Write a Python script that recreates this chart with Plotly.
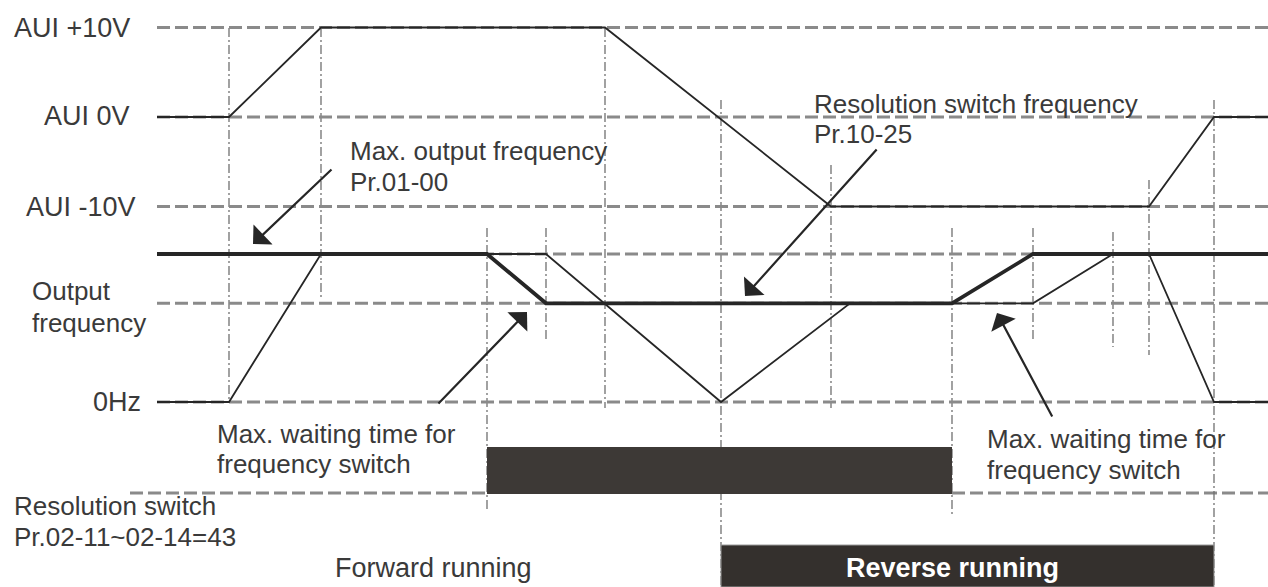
import plotly.graph_objects as go

W, H = 1268, 587

# ---- signals (time axis in drawing units) ----
# analog input AUI, volts
aui_t = [157, 229, 321, 605, 831, 1149, 1214, 1268]
aui_v = [0, 0, 10, 10, -10, -10, 0, 0]

# frequency command after resolution switching (thick), Hz
cmd_t = [157, 487, 546, 952, 1033, 1268]
cmd_f = [60, 60, 40, 40, 60, 60]

# actual output frequency (thin), Hz
out_t = [157, 229, 321, 546, 721, 850, 1033, 1113, 1149, 1214, 1268]
out_f = [0, 0, 60, 60, 0, 40, 40, 60, 60, 0, 0]

# resolution switch (Pr.02-11~02-14=43) on between these times
res_on = [487, 952]
res_span = [130, 1268]
# reverse running between these times
rev_on = [721, 1214]

# reference levels
aui_levels = [10, 0, -10]
aui_level_names = ["AUI +10V", "AUI 0V", "AUI -10V"]
freq_levels = [60, 40, 0]          # Fmax, switch frequency, 0 Hz

# event markers (dash-dot): time, top px, bottom px
mark_t = [229, 321, 487, 546, 605, 721, 831, 952, 1033, 1113, 1149, 1214]
mark_top = [28, 28, 228, 228, 28, 100, 165, 228, 228, 232, 180, 100]
mark_bot = [402, 300, 512, 340, 408, 587, 408, 515, 340, 347, 355, 587]

# ---- vertical scales (pixel anchors) ----
AUI_ZERO_PX, AUI_PX_PER_V = 117, 8.95
F_ZERO_PX, F_PX_PER_HZ = 402, 148 / 60

GRID = "#8a8a8a"
INK = "#262626"
TXT = "#3a3a3a"
BAR = "#3d3936"
FONT = "Liberation Sans, Arial, sans-serif"

fig = go.Figure()


def line(x, y, axis, color, width, dash="solid"):
    fig.add_trace(go.Scatter(x=x, y=y, yaxis=axis, mode="lines",
                             line=dict(color=color, width=width, dash=dash),
                             hoverinfo="skip", showlegend=False))


# dashed reference lines
for v in aui_levels:
    line([157, W], [v, v], "y2", GRID, 3, "13px,5px")
for f in freq_levels:
    line([157, W], [f, f], "y3", GRID, 3, "13px,5px")
# resolution switch baseline (off state)
line([res_span[0], res_on[0]], [493, 493], "y", GRID, 3, "13px,5px")
line([res_on[1], res_span[1]], [493, 493], "y", GRID, 3, "13px,5px")

# dash-dot event markers
mx, my = [], []
for t, a, b in zip(mark_t, mark_top, mark_bot):
    mx += [t, t, None]
    my += [a, b, None]
line(mx, my, "y", "#707070", 1.3, "9px,3px,2px,3px")

# signals
line(aui_t, aui_v, "y2", INK, 1.8)
line(out_t, out_f, "y3", INK, 1.8)
line(cmd_t, cmd_f, "y3", INK, 3.8)

# on-state bars
fig.add_shape(type="rect", xref="x", yref="y", x0=res_on[0], x1=res_on[1],
              y0=447, y1=494, fillcolor=BAR, line=dict(width=0), layer="above")
fig.add_shape(type="rect", xref="x", yref="y", x0=rev_on[0], x1=rev_on[1],
              y0=545, y1=H, fillcolor="#34302d", line=dict(color="#9a9a9a", width=1),
              layer="above")


def text(s, x, y, anchor="left", color=TXT, bold=False, size=26):
    fig.add_annotation(x=x, y=y, xref="x", yref="y", text=s, showarrow=False,
                       xanchor=anchor, yanchor="middle",
                       font=dict(family=FONT, size=size, color=color,
                                 weight="bold" if bold else "normal"))


def arrow(tip, tail):
    fig.add_annotation(x=tip[0], y=tip[1], ax=tail[0], ay=tail[1], xref="x", yref="y",
                       axref="x", ayref="y", text="", showarrow=True,
                       arrowhead=1, arrowsize=2.1, arrowwidth=2.2, arrowcolor=INK)


text(aui_level_names[0], 132, 28, "right", size=27)
text(aui_level_names[1], 132, 116, "right", size=27)
text(aui_level_names[2], 138, 207, "right", size=27)
text("Output", 30, 291)
text("frequency", 30, 323)
text("0Hz", 143, 402, "right", size=27)
text("Max. output frequency", 348, 151)
text("Pr.01-00", 348, 182)
text("Resolution switch frequency", 812, 104)
text("Pr.10-25", 812, 134)
text("Max. waiting time for", 215, 434)
text("frequency switch", 215, 464)
text("Max. waiting time for", 985, 439)
text("frequency switch", 985, 470)
text("Resolution switch", 12, 506)
text("Pr.02-11~02-14=43", 12, 537)
text("Forward running", 333, 568, size=27)
text("Reverse running", 952, 568, "center", color="white", bold=True, size=27)

arrow((253, 244), (333, 168))
arrow((745, 296), (878, 148))
arrow((527, 312), (437, 405))
arrow((997, 313), (1053, 418))

fig.update_layout(
    width=W, height=H, autosize=False,
    margin=dict(l=0, r=0, t=0, b=0),
    paper_bgcolor="white", plot_bgcolor="white",
    xaxis=dict(range=[0, W], visible=False, fixedrange=True),
    yaxis=dict(range=[H, 0], visible=False, fixedrange=True),
    yaxis2=dict(range=[(AUI_ZERO_PX - H) / AUI_PX_PER_V, AUI_ZERO_PX / AUI_PX_PER_V],
                overlaying="y", visible=False, fixedrange=True),
    yaxis3=dict(range=[(F_ZERO_PX - H) / F_PX_PER_HZ, F_ZERO_PX / F_PX_PER_HZ],
                overlaying="y", visible=False, fixedrange=True),
    showlegend=False,
)

fig.write_html("out.html", config={"displayModeBar": False},
               post_script="document.body.style.margin='0';document.body.style.overflow='hidden';")
